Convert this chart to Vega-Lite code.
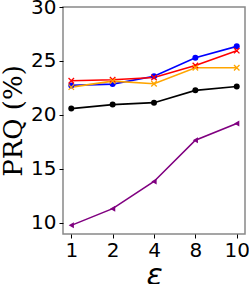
{
  "$schema": "https://vega.github.io/schema/vega-lite/v6.json",
  "width": 182,
  "height": 227,
  "autosize": {"type": "none"},
  "padding": {"left": 63, "top": 7, "right": 4, "bottom": 50},
  "background": "white",
  "config": {
    "view": {"stroke": "#888888", "strokeWidth": 1.5},
    "axis": {
      "grid": false,
      "domain": false,
      "tickColor": "black",
      "tickSize": 4,
      "tickWidth": 1,
      "labelFont": "DejaVu Sans",
      "labelFontSize": 20,
      "labelColor": "black"
    }
  },
  "data": {
    "values": [
      {"eps": 1, "method": "black", "prq": 20.58},
      {"eps": 2, "method": "black", "prq": 20.95},
      {"eps": 4, "method": "black", "prq": 21.13},
      {"eps": 8, "method": "black", "prq": 22.27},
      {"eps": 10, "method": "black", "prq": 22.63},
      {"eps": 1, "method": "blue", "prq": 22.73},
      {"eps": 2, "method": "blue", "prq": 22.85},
      {"eps": 4, "method": "blue", "prq": 23.58},
      {"eps": 8, "method": "blue", "prq": 25.3},
      {"eps": 10, "method": "blue", "prq": 26.35},
      {"eps": 1, "method": "red", "prq": 23.16},
      {"eps": 2, "method": "red", "prq": 23.25},
      {"eps": 4, "method": "red", "prq": 23.46},
      {"eps": 8, "method": "red", "prq": 24.57},
      {"eps": 10, "method": "red", "prq": 25.95},
      {"eps": 1, "method": "orange", "prq": 22.57},
      {"eps": 2, "method": "orange", "prq": 23.13},
      {"eps": 4, "method": "orange", "prq": 22.88},
      {"eps": 8, "method": "orange", "prq": 24.37},
      {"eps": 10, "method": "orange", "prq": 24.37},
      {"eps": 1, "method": "purple", "prq": 9.75},
      {"eps": 2, "method": "purple", "prq": 11.3},
      {"eps": 4, "method": "purple", "prq": 13.82},
      {"eps": 8, "method": "purple", "prq": 17.65},
      {"eps": 10, "method": "purple", "prq": 19.2}
    ]
  },
  "encoding": {
    "x": {
      "field": "eps",
      "type": "ordinal",
      "scale": {"type": "point", "padding": 0.2},
      "axis": {
        "title": "ε",
        "titleFont": "DejaVu Sans",
        "titleFontStyle": "italic",
        "titleFontWeight": "normal",
        "titleFontSize": 30,
        "titleColor": "black",
        "titlePadding": 0,
        "labelAngle": 0,
        "labelPadding": 2
      }
    },
    "y": {
      "field": "prq",
      "type": "quantitative",
      "scale": {"domain": [8.95, 30], "nice": false, "zero": false},
      "axis": {
        "values": [10, 15, 20, 25, 30],
        "title": "PRQ (%)",
        "titleFont": "DejaVu Serif",
        "titleFontWeight": "normal",
        "titleFontSize": 26,
        "titleColor": "black",
        "titlePadding": 4,
        "labelPadding": 3
      }
    },
    "color": {
      "field": "method",
      "type": "nominal",
      "scale": {
        "domain": ["black", "blue", "red", "orange", "purple"],
        "range": ["#000000", "#0000ff", "#ff0000", "#ffa500", "#800080"]
      },
      "legend": null
    }
  },
  "layer": [
    {
      "mark": {"type": "line", "strokeWidth": 1.6}
    },
    {
      "transform": [{"filter": "datum.method === 'black' || datum.method === 'blue'"}],
      "mark": {"type": "point", "shape": "circle", "filled": true, "opacity": 1, "size": 36}
    },
    {
      "transform": [{"filter": "datum.method === 'red' || datum.method === 'orange'"}],
      "mark": {"type": "point", "shape": "M-1,-1L1,1M1,-1L-1,1", "filled": false, "opacity": 1, "size": 30, "strokeWidth": 1.3}
    },
    {
      "transform": [{"filter": "datum.method === 'purple'"}],
      "mark": {"type": "point", "shape": "triangle-left", "filled": true, "opacity": 1, "size": 36}
    }
  ]
}
